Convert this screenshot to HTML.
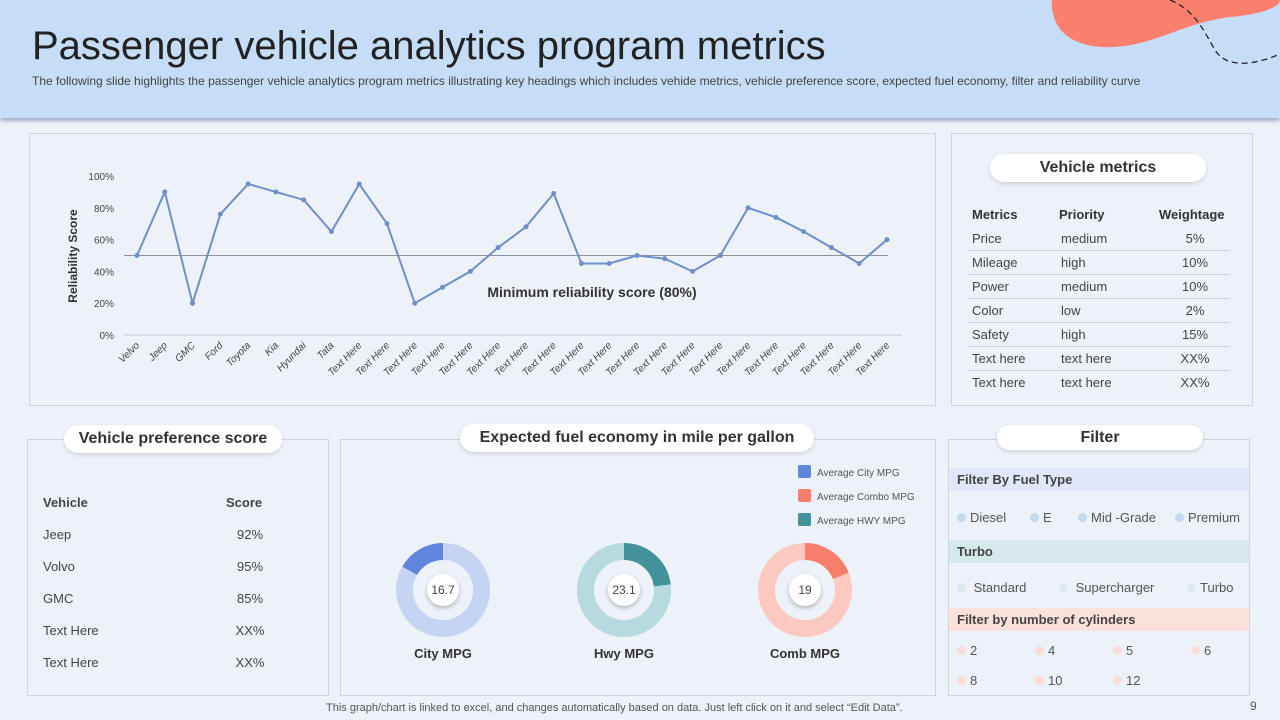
<!DOCTYPE html>
<html><head><meta charset="utf-8">
<style>
*{margin:0;padding:0;box-sizing:border-box}
body{width:1280px;height:720px;overflow:hidden;background:#edf1f8;font-family:"Liberation Sans",Arial,sans-serif;position:relative;color:#333}
.abs{position:absolute}
.panel{position:absolute;border:1px solid #cfd5df;background:#edf1f8}
.pill{position:absolute;background:#fff;border-radius:14px;box-shadow:0 2px 4px rgba(0,0,0,.12);text-align:center;font-weight:bold;font-size:16px;color:#333;line-height:28px}
.t{position:absolute;font-size:13px;color:#444;white-space:nowrap}
.sep{position:absolute;height:1px;background:#cdd3dc}
.dot{display:inline-block;width:9px;height:9px;border-radius:50%;margin-right:4px;vertical-align:0}
</style></head><body>
<div class="abs" style="left:0;top:0;width:1280px;height:118px;background:#c5ddf7;box-shadow:0 3px 4px rgba(90,110,150,.5)"></div>
<svg class="abs" style="left:1040px;top:0" width="240" height="80">
<path d="M12,0 C10,35 40,52 85,46 C125,40 150,20 200,16 C230,12 240,5 240,0 Z" fill="#fa7f6c"/>
<path d="M130,0 C160,12 168,42 178,54 C192,70 222,62 240,54" fill="none" stroke="#223" stroke-width="1.3" stroke-dasharray="6,4"/>
</svg>
<div class="abs" style="left:32px;top:24px;font-size:40px;color:#222">Passenger vehicle analytics program metrics</div>
<div class="abs" style="left:32px;top:74px;font-size:12px;color:#444">The following slide highlights the passenger vehicle analytics program metrics illustrating key headings which includes vehide metrics, vehicle preference score, expected fuel economy, filter and reliability curve</div>

<div class="panel" style="left:29px;top:133px;width:907px;height:273px"></div>
<svg id="chart" class="abs" style="left:0;top:0" width="940" height="410"></svg>

<div class="panel" style="left:951px;top:133px;width:302px;height:273px"></div>
<div class="pill" style="left:990px;top:154px;width:216px">Vehicle metrics</div>
<div id="metrics"></div>

<div class="panel" style="left:27px;top:439px;width:302px;height:257px"></div>
<div class="pill" style="left:64px;top:425px;width:218px">Vehicle preference score</div>
<div id="pref"></div>

<div class="panel" style="left:340px;top:439px;width:596px;height:257px"></div>
<div class="pill" style="left:460px;top:424px;width:354px">Expected fuel economy in mile per gallon</div>
<svg id="donuts" class="abs" style="left:340px;top:439px" width="596" height="257"></svg>

<div class="panel" style="left:948px;top:439px;width:302px;height:257px"></div>
<div class="pill" style="left:997px;top:425px;width:206px;height:25px;line-height:25px">Filter</div>
<div class="abs" style="left:949px;top:468px;width:300px;height:23px;background:#dfe7f8;font-weight:bold;font-size:13px;line-height:23px;padding-left:8px;color:#444">Filter By Fuel Type</div>
<div class="t" style="left:957px;top:510px;color:#555"><span class="dot" style="background:#c3daf2"></span>Diesel</div>
<div class="t" style="left:1030px;top:510px;color:#555"><span class="dot" style="background:#c3daf2"></span>E</div>
<div class="t" style="left:1078px;top:510px;color:#555"><span class="dot" style="background:#c3daf2"></span>Mid -Grade</div>
<div class="t" style="left:1175px;top:510px;color:#555"><span class="dot" style="background:#c3daf2"></span>Premium</div>
<div class="abs" style="left:949px;top:540px;width:300px;height:23px;background:#d6e8ea;font-weight:bold;font-size:13px;line-height:23px;padding-left:8px;color:#444">Turbo</div>
<div class="t" style="left:957px;top:580px;color:#555"><span class="dot" style="background:#dbe7ea"></span> Standard</div>
<div class="t" style="left:1059px;top:580px;color:#555"><span class="dot" style="background:#dbe7ea"></span> Supercharger</div>
<div class="t" style="left:1187px;top:580px;color:#555"><span class="dot" style="background:#dbe7ea"></span>Turbo</div>
<div class="abs" style="left:949px;top:608px;width:300px;height:23px;background:#fbe0dc;font-weight:bold;font-size:13px;line-height:23px;padding-left:8px;color:#444">Filter by number of cylinders</div>
<div id="cyl"></div>

<div class="abs" style="left:326px;top:702px;font-size:11px;color:#555">This graph/chart is linked to excel, and changes automatically based on data. Just left click on it and select “Edit Data”.</div>
<div class="abs" style="left:1250px;top:699px;font-size:12px;color:#555">9</div>

<script>
const categories=["Velvo","Jeep","GMC","Ford","Toyota","Kia","Hyundai","Tata","Text Here","Text Here","Text Here","Text Here","Text Here","Text Here","Text Here","Text Here","Text Here","Text Here","Text Here","Text Here","Text Here","Text Here","Text Here","Text Here","Text Here","Text Here","Text Here","Text Here"];
const reliability=[50,90,20,76,95,90,85,65,95,70,20,30,40,55,68,89,45,45,50,48,40,50,80,74,65,55,45,60];
const yTicks=[0,20,40,60,80,100];
const minLine=[50];

const NS="http://www.w3.org/2000/svg";
function mk(parent,tag,attrs){const e=document.createElementNS(NS,tag);for(const k in attrs)e.setAttribute(k,attrs[k]);parent.appendChild(e);return e;}
const svg=document.getElementById('chart');
const x=i=>137+i*(887-137)/(categories.length-1);
const y=v=>335-v*(335-176)/100;
yTicks.forEach(t=>{const tx=mk(svg,'text',{x:114,y:y(t)+4,'text-anchor':'end','font-size':10,fill:'#444'});tx.textContent=t+'%';

});
const ax=mk(svg,'line',{x1:124,x2:902,y1:335,y2:335,stroke:'#c8ccd4'});


const ref=mk(svg,'line',{x1:124,x2:888,y1:y(minLine[0]),y2:y(minLine[0]),stroke:'#8c939c','stroke-width':1});


const yt=mk(svg,'text',{x:0,y:0,transform:'translate(77,256) rotate(-90)','text-anchor':'middle','font-size':12,'font-weight':'bold',fill:'#333'});yt.textContent='Reliability Score';


const rl=mk(svg,'text',{x:592,y:297,'text-anchor':'middle','font-size':14,'font-weight':'bold',fill:'#333'});rl.textContent='Minimum reliability score (80%)';


const pts=reliability.map((v,i)=>x(i)+','+y(v)).join(' ');
const pl=mk(svg,'polyline',{points:pts,fill:'none',stroke:'#6e8fca','stroke-width':2});


reliability.forEach((v,i)=>{const c=mk(svg,'circle',{cx:x(i),cy:y(v),r:2.5,fill:'#6e8fca'});

});
categories.forEach((c,i)=>{const t=mk(svg,'text',{x:0,y:0,transform:`translate(${x(i)+3},${346}) rotate(-45)`,'text-anchor':'end','font-size':10,'font-style':'italic',fill:'#444'});t.textContent=c;

});

const mNames=["Price","Mileage","Power","Color","Safety","Text here","Text here"];
const mPrio=["medium","high","medium","low","high","text here","text here"];
const mWeight=["5%","10%","10%","2%","15%","XX%","XX%"];
let h='';
h+='<div class="t" style="left:972px;top:207px;font-weight:bold;color:#333">Metrics</div>';
h+='<div class="t" style="left:1059px;top:207px;font-weight:bold;color:#333">Priority</div>';
h+='<div class="t" style="left:1159px;top:207px;font-weight:bold;color:#333">Weightage</div>';
mNames.forEach((n,i)=>{const ty=231+i*24;
h+=`<div class="t" style="left:972px;top:${ty}px">${n}</div>`;
h+=`<div class="t" style="left:1061px;top:${ty}px">${mPrio[i]}</div>`;
h+=`<div class="t" style="left:1170px;top:${ty}px;width:50px;text-align:center">${mWeight[i]}</div>`;
if(i<6)h+=`<div class="sep" style="left:968px;top:${ty+19}px;width:262px"></div>`;});
document.getElementById('metrics').innerHTML=h;

const pV=["Jeep","Volvo","GMC","Text Here","Text Here"];
const pS=["92%","95%","85%","XX%","XX%"];
h='<div class="t" style="left:43px;top:495px;font-weight:bold;color:#444">Vehicle</div><div class="t" style="left:226px;top:495px;font-weight:bold;color:#444">Score</div>';
pV.forEach((n,i)=>{const ty=527+i*32;
h+=`<div class="t" style="left:43px;top:${ty}px">${n}</div><div class="t" style="left:226px;top:${ty}px;width:48px;text-align:center">${pS[i]}</div>`;});
document.getElementById('pref').innerHTML=h;

const cyl=["2","4","5","6","8","10","12"];
h='';cyl.forEach((c,i)=>{const col=i%4,row=Math.floor(i/4);
h+=`<div class="t" style="left:${957+col*78}px;top:${643+row*30}px;color:#555"><span class="dot" style="background:#fbdcd6"></span>${c}</div>`;});
document.getElementById('cyl').innerHTML=h;

const mpgLabels=["City MPG","Hwy MPG","Comb MPG"];
const mpgValues=[16.7,23.1,19];
const mpgMax=[100,100,100];
const legendNames=["Average City MPG","Average Combo MPG","Average HWY MPG"];
const d=document.getElementById('donuts');
const colors=[["#c6d4f3","#5f86dc"],["#b6dadd","#43919a"],["#fcc9c1","#f77e6b"]];
const dirs=[-1,1,1];
const legCols=["#5f86dc","#f77e6b","#43919a"];
legendNames.forEach((n,i)=>{const r=mk(d,'rect',{x:458,y:26+i*24,width:13,height:13,rx:2,fill:legCols[i]});


const t=mk(d,'text',{x:477,y:37+i*24,'font-size':10,fill:'#555'});t.textContent=n;

});
mpgValues.forEach((v,i)=>{const cx=103+i*181,cy=151,R=38.5,W=17;
const bg=mk(d,'circle',{cx,cy,r:R,fill:'none',stroke:colors[i][0],'stroke-width':W});


const a=v/mpgMax[i]*2*Math.PI*dirs[i];
const x2=cx+R*Math.sin(a),y2=cy-R*Math.cos(a);
const seg=mk(d,'path',{d:`M${cx},${cy-R} A${R},${R} 0 ${Math.abs(a)>Math.PI?1:0} ${dirs[i]>0?1:0} ${x2},${y2}`,fill:'none',stroke:colors[i][1],'stroke-width':W});


const c=mk(d,'circle',{cx,cy,r:16,fill:'#fff',style:'filter:drop-shadow(0 2px 2px rgba(0,0,0,.25))'});


const t=mk(d,'text',{x:cx,y:cy+4,'text-anchor':'middle','font-size':12,fill:'#444'});t.textContent=v;


const l=mk(d,'text',{x:cx,y:219,'text-anchor':'middle','font-size':13,'font-weight':'bold',fill:'#333'});l.textContent=mpgLabels[i];

});
</script>
</body></html>
